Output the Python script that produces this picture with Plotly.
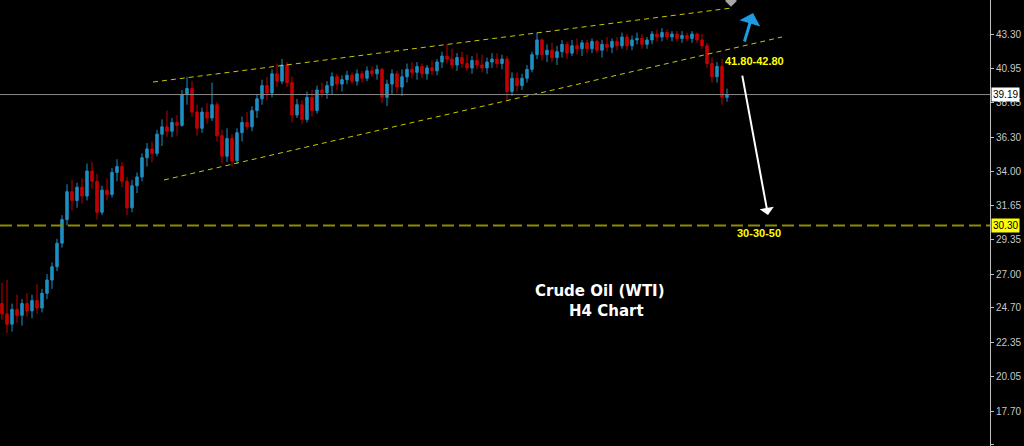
import plotly.graph_objects as go

# Datos de las velas (H4, Crude Oil WTI):
opens = [
    25.0, 24.3, 23.6, 24.6, 24.2, 25.0, 24.5, 25.2, 24.7, 25.7,
    26.6, 27.5, 29.1, 30.7, 32.6, 32.0, 32.9, 32.3, 34.0, 33.3,
    31.2, 32.7, 32.4, 33.9, 34.3, 33.3, 31.5, 33.0, 33.6, 34.9,
    35.5, 35.2, 36.5, 37.0, 36.7, 37.3, 37.1, 39.2, 39.6, 38.0,
    36.9, 38.0, 37.6, 38.5, 36.4, 35.0, 36.2, 34.7, 36.6, 37.3,
    37.0, 38.1, 38.9, 39.8, 39.3, 40.6, 40.1, 41.2, 40.0, 37.8,
    38.5, 37.5, 39.0, 38.1, 39.5, 39.3, 39.8, 40.4, 39.9, 40.2,
    40.5, 40.1, 40.6, 40.3, 40.8, 40.6, 40.9, 39.0, 39.9, 40.6,
    39.7, 40.4, 40.9, 40.7, 41.1, 40.6, 41.0, 40.8, 41.4, 41.8,
    41.6, 41.2, 41.7, 41.3, 41.0, 41.5, 41.2, 41.0, 41.4, 41.6,
    41.3, 41.6, 39.4, 40.3, 39.8, 40.3, 40.9, 41.9, 42.9, 41.9,
    42.2, 41.7, 42.1, 42.6, 42.0, 42.5, 42.3, 42.7, 42.3, 42.8,
    42.2, 42.6, 42.4, 42.8, 42.5, 43.1, 42.5, 42.9, 43.0, 42.6,
    42.9, 43.3, 43.1, 43.4, 43.1, 43.3, 43.0, 43.2, 43.0, 43.3,
    42.9, 42.5, 41.3, 40.4, 41.1, 39.0,
]
highs = [
    26.4, 26.6, 25.0, 25.6, 25.3, 25.7, 25.6, 26.3, 26.0, 27.0,
    27.8, 29.4, 31.0, 33.1, 33.4, 33.2, 33.5, 34.5, 34.6, 33.8,
    33.0, 33.5, 34.2, 34.8, 34.6, 33.6, 33.4, 33.9, 35.2, 35.9,
    36.0, 36.8, 37.5, 38.1, 37.6, 37.8, 39.5, 40.4, 40.1, 38.5,
    38.3, 38.6, 40.0, 38.7, 36.8, 36.9, 36.5, 36.9, 37.7, 38.0,
    38.4, 39.2, 40.2, 40.4, 40.9, 41.3, 41.6, 41.4, 40.4, 38.9,
    38.8, 39.4, 39.5, 39.8, 40.0, 40.1, 40.7, 40.6, 40.5, 40.8,
    40.7, 40.9, 40.8, 41.1, 41.1, 41.2, 41.0, 40.2, 40.9, 40.8,
    40.9, 41.3, 41.4, 41.4, 41.3, 41.2, 41.5, 41.6, 42.1, 42.6,
    42.3, 42.0, 42.1, 41.9, 41.8, 42.0, 41.9, 41.7, 42.0, 42.0,
    41.9, 41.8, 40.7, 40.7, 40.6, 41.2, 42.1, 43.4, 43.0, 42.6,
    42.7, 42.5, 42.9, 42.8, 42.9, 43.0, 42.9, 42.9, 43.0, 42.9,
    42.9, 43.1, 43.0, 43.1, 43.4, 43.3, 43.2, 43.4, 43.3, 43.1,
    43.5, 43.6, 43.7, 43.6, 43.5, 43.5, 43.5, 43.4, 43.5, 43.4,
    43.3, 42.7, 41.7, 41.4, 41.6, 39.6,
]
lows = [
    23.9, 23.0, 23.1, 23.7, 23.5, 24.1, 24.0, 24.3, 24.4, 25.3,
    26.0, 27.2, 28.8, 30.3, 31.3, 31.5, 31.8, 32.0, 32.8, 30.7,
    31.0, 32.0, 32.2, 33.3, 32.9, 31.0, 31.2, 32.5, 33.3, 34.3,
    34.6, 35.0, 35.7, 36.3, 36.3, 36.4, 37.0, 38.5, 37.7, 36.4,
    36.6, 37.2, 37.4, 36.0, 34.5, 34.6, 34.3, 34.5, 36.0, 36.8,
    36.7, 37.6, 38.5, 38.8, 39.0, 39.7, 39.9, 39.7, 37.3, 37.6,
    37.2, 37.3, 37.7, 37.9, 39.0, 38.9, 39.2, 39.5, 39.4, 39.9,
    39.9, 39.8, 40.0, 40.1, 40.4, 40.2, 38.6, 38.4, 39.2, 39.3,
    39.1, 40.0, 40.3, 40.2, 40.3, 40.2, 40.5, 40.5, 41.0, 41.3,
    40.9, 40.8, 41.0, 40.8, 40.6, 40.9, 40.7, 40.6, 41.0, 41.0,
    40.9, 38.8, 39.1, 39.4, 39.5, 40.0, 40.7, 41.6, 41.5, 41.4,
    41.4, 41.2, 41.7, 41.6, 41.8, 41.9, 41.8, 42.0, 42.0, 42.0,
    41.7, 42.1, 42.0, 42.2, 42.3, 42.2, 42.2, 42.6, 42.3, 42.3,
    42.6, 42.8, 42.8, 42.9, 42.8, 42.8, 42.7, 42.8, 42.7, 42.7,
    42.3, 41.0, 40.0, 40.0, 38.5, 38.7,
]
closes = [
    24.3, 23.6, 24.6, 24.2, 25.0, 24.5, 25.2, 24.7, 25.7, 26.6,
    27.5, 29.1, 30.7, 32.6, 32.0, 32.9, 32.3, 34.0, 33.3, 31.2,
    32.7, 32.4, 33.9, 34.3, 33.3, 31.5, 33.0, 33.6, 34.9, 35.5,
    35.2, 36.5, 37.0, 36.7, 37.3, 37.1, 39.2, 39.6, 38.0, 36.9,
    38.0, 37.6, 38.5, 36.4, 35.0, 36.2, 34.7, 36.6, 37.3, 37.0,
    38.1, 38.9, 39.8, 39.3, 40.6, 40.1, 41.2, 40.0, 37.8, 38.5,
    37.5, 39.0, 38.1, 39.5, 39.3, 39.8, 40.4, 39.9, 40.2, 40.5,
    40.1, 40.6, 40.3, 40.8, 40.6, 40.9, 39.0, 39.9, 40.6, 39.7,
    40.4, 40.9, 40.7, 41.1, 40.6, 41.0, 40.8, 41.4, 41.8, 41.6,
    41.2, 41.7, 41.3, 41.0, 41.5, 41.2, 41.0, 41.4, 41.6, 41.3,
    41.6, 39.4, 40.3, 39.8, 40.3, 40.9, 41.9, 42.9, 41.9, 42.2,
    41.7, 42.1, 42.6, 42.0, 42.5, 42.3, 42.7, 42.3, 42.8, 42.2,
    42.6, 42.4, 42.8, 42.5, 43.1, 42.5, 42.9, 43.0, 42.6, 42.9,
    43.3, 43.1, 43.4, 43.1, 43.3, 43.0, 43.2, 43.0, 43.3, 42.9,
    42.5, 41.3, 40.4, 41.1, 39.0, 39.19,
]
bars = list(range(len(closes)))

# Marcas del eje de precios:
price_ticks = [43.30, 40.95, 38.65, 36.30, 34.00, 31.65, 29.35,
               27.00, 24.70, 22.35, 20.05, 17.70, 15.40]

# Niveles y líneas de tendencia (barra, precio):
last_price    = 39.19
support_level = 30.30
upper_trend   = ([30.2, 146.0], [40.04, 45.07])
lower_trend   = ([32.4, 156.0], [33.39, 43.10])

# Flechas (punta, cola) y etiquetas de objetivos:
arrow_up    = ((150.2, 44.73), (148.4, 42.69))
arrow_down  = ((153.2, 31.01), (148.0, 40.58))
target_up   = (150.4, 41.47, '41.80-42.80')
target_down = (151.4, 29.79, '30-30-50')

fig = go.Figure()

# Velas japonesas:
fig.add_trace(
    go.Candlestick(
        x           = bars,
        open        = opens,
        high        = highs,
        low         = lows,
        close       = closes,
        increasing  = dict(line=dict(color='#1f8fc4', width=1), fillcolor='#1f8fc4'),
        decreasing  = dict(line=dict(color='#c40000', width=1), fillcolor='#c40000'),
        hoverinfo   = 'skip',
        showlegend  = False
    )
)

# Líneas de tendencia del canal:
for tx, ty in [upper_trend, lower_trend]:
    fig.add_trace(
        go.Scatter(
            x           = tx,
            y           = ty,
            mode        = 'lines',
            line        = dict(color='#c8c800', width=1, dash='5px,4px'),
            hoverinfo   = 'skip',
            showlegend  = False
        )
    )

# Marcador gris en la parte superior:
fig.add_trace(
    go.Scatter(
        x           = [145.8],
        y           = [45.55],
        mode        = 'markers',
        marker      = dict(symbol='diamond', size=9, color='#a8a8a8'),
        hoverinfo   = 'skip',
        showlegend  = False
    )
)

# Líneas horizontales de precio:
fig.add_hline(y=last_price, line=dict(color='#8a8a8a', width=1))
fig.add_hline(y=support_level, line=dict(color='#8c8c00', width=2, dash='12px,5px'))

# Flechas:
annotations = []
for (hx, hy), (tx, ty), col, w in [(arrow_up[0], arrow_up[1], '#1e9be0', 3),
                                   (arrow_down[0], arrow_down[1], '#ffffff', 2)]:
    annotations.append(dict(
        x           = hx,
        y           = hy,
        ax          = tx,
        ay          = ty,
        xref        = 'x',
        yref        = 'y',
        axref       = 'x',
        ayref       = 'y',
        text        = '',
        showarrow   = True,
        arrowhead   = 1,
        arrowsize   = 1.2,
        arrowwidth  = w,
        arrowcolor  = col
    ))

# Etiquetas de objetivos:
for tx, ty, txt in [target_up, target_down]:
    annotations.append(dict(
        x           = tx,
        y           = ty,
        text        = '<b>' + txt + '</b>',
        showarrow   = False,
        font        = dict(family='Liberation Sans', size=11, color='#ffff00')
    ))

# Título dentro del gráfico:
annotations.append(dict(
    x=119.6, y=25.85, text='<b>Crude Oil (WTI)</b>', showarrow=False,
    font=dict(family='DejaVu Sans', size=15, color='#ffffff')
))
annotations.append(dict(
    x=120.8, y=24.50, text='<b>H4 Chart</b>', showarrow=False,
    font=dict(family='DejaVu Sans', size=15, color='#ffffff')
))

# Etiquetas de precio en el eje:
for level, bg in [(last_price, '#ffffff'), (support_level, '#ffff00')]:
    annotations.append(dict(
        x           = 1,
        y           = level,
        xref        = 'paper',
        yref        = 'y',
        xanchor     = 'left',
        xshift      = 1,
        text        = f'{level:.2f}',
        showarrow   = False,
        bgcolor     = bg,
        borderpad   = 1,
        font        = dict(family='Liberation Sans', size=10, color='#000000')
    ))

fig.update_layout(
    width           = 1024,
    height          = 446,
    margin          = dict(l=0, r=34, t=0, b=0),
    paper_bgcolor   = '#000000',
    plot_bgcolor    = '#000000',
    annotations     = annotations,
    xaxis           = dict(
        range           = [-0.4, 197.6],
        visible         = False,
        rangeslider     = dict(visible=False)
    ),
    yaxis           = dict(
        range           = [15.33, 45.61],
        side            = 'right',
        tickvals        = price_ticks,
        ticktext        = [f'{v:.2f}' for v in price_ticks],
        ticks           = 'outside',
        ticklen         = 3,
        tickcolor       = '#c0c0c0',
        tickfont        = dict(family='Liberation Sans', size=10, color='#c8c8c8'),
        showgrid        = False,
        zeroline        = False,
        showline        = True,
        linecolor       = '#c0c0c0',
        linewidth       = 1
    )
)

# Quitar el margen de la página para que la figura ocupe toda la ventana:
fig.write_html(
    'out.html',
    config      = {'displayModeBar': False},
    post_script = "document.body.style.margin='0';document.body.style.overflow='hidden';"
)
